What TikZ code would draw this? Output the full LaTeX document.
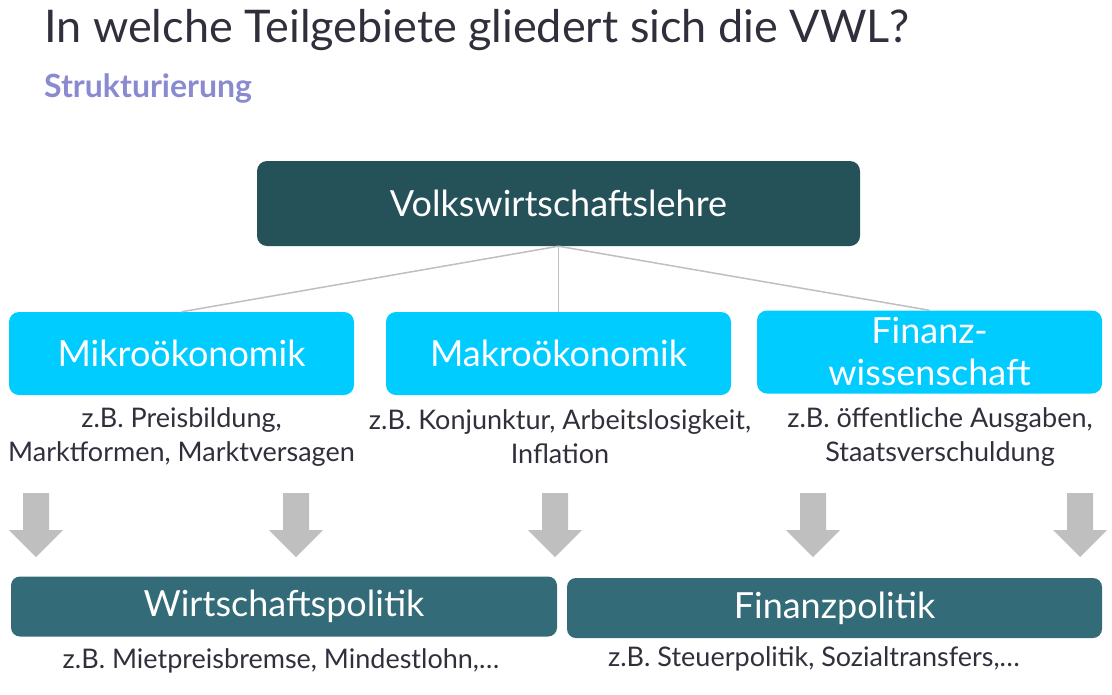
\documentclass[tikz,border=0pt]{standalone}
\usepackage{fontspec}
\setmainfont{Lato}
\definecolor{vwlteal}{HTML}{255159}
\definecolor{subcyan}{HTML}{00CCFF}
\definecolor{polteal}{HTML}{336C78}
\definecolor{arrowgray}{HTML}{BFBFBF}
\definecolor{textdark}{HTML}{30303C}
\definecolor{subpurple}{HTML}{8A8AD0}
\usetikzlibrary{positioning}

\begin{document}
\begin{tikzpicture}[x=1pt, y=-1pt,
        vwlbox/.style={rectangle, rounded corners=10pt, fill=vwlteal, text=white,
                       minimum width=603pt, minimum height=85pt, align=center,
                       font=\fontsize{36}{40}\selectfont},
        subbox/.style={rectangle, rounded corners=10pt, fill=subcyan, text=white,
                       minimum width=345pt, minimum height=83pt, align=center,
                       font=\fontsize{36}{40}\selectfont},
        polbox/.style={rectangle, rounded corners=9pt, fill=polteal, text=white,
                       minimum height=60pt, align=center,
                       font=\fontsize{36}{40}\selectfont},
        desc/.style={align=center, text=textdark, inner sep=0pt,
                     font=\fontsize{27}{34}\selectfont},
        treeline/.style={draw=arrowgray, line width=1.5pt}
      ]
        \useasboundingbox (0,0) rectangle (1112,694);
        \node[anchor=base west, text=textdark, inner sep=0pt,
              font=\fontsize{45}{50}\selectfont] (title) at (44,42)
              {In welche Teilgebiete gliedert sich die VWL?};
        \node[anchor=base west, text=subpurple, inner sep=0pt,
              font=\fontsize{32}{34}\selectfont\bfseries] (subtitle) at (44,97)
              {Strukturierung};

        \node[vwlbox] (vwl) at (558.5,203.5) {Volkswirtschaftslehre};
        \node[subbox] (mikro) at (181.5,353.5) {Mikroökonomik};
        \node[subbox] (makro) at (558.5,353.5) {Makroökonomik};
        \node[subbox, font=\fontsize{36}{42}\selectfont] (fiwi) at (929.5,352) {Finanz-\\wissenschaft};
        \draw[treeline] (vwl.south) -- (mikro.north);
        \draw[treeline] (vwl.south) -- (makro.north);
        \draw[treeline] (vwl.south) -- (fiwi.north);

        \node[desc] (mikrotxt) at (181.5,437) {z.B. Preisbildung,\\Marktformen, Marktversagen};
        \node[desc] (makrotxt) at (560,437) {z.B. Konjunktur, Arbeitslosigkeit,\\Inflation};
        \node[desc] (fiwitxt) at (940,437) {z.B. öffentliche Ausgaben,\\Staatsverschuldung};

        % block arrows
        \foreach \ax in {36,296,555,813,1080}
          \fill[arrowgray] (\ax-13,493) -- (\ax+13,493) -- (\ax+13,530) -- (\ax+27,530)
                -- (\ax,557) -- (\ax-27,530) -- (\ax-13,530) -- cycle;

        \node[polbox, minimum width=546pt] (wipo) at (284,606.5) {Wirtschaftspolitik};
        \node[polbox, minimum width=535pt] (fipo) at (834.5,608) {Finanzpolitik};
        \node[desc] (wipotxt) at (281,661) {z.B. Mietpreisbremse, Mindestlohn,\dots};
        \node[desc] (fipotxt) at (814,659) {z.B. Steuerpolitik, Sozialtransfers,\dots};
      \end{tikzpicture}
\end{document}
